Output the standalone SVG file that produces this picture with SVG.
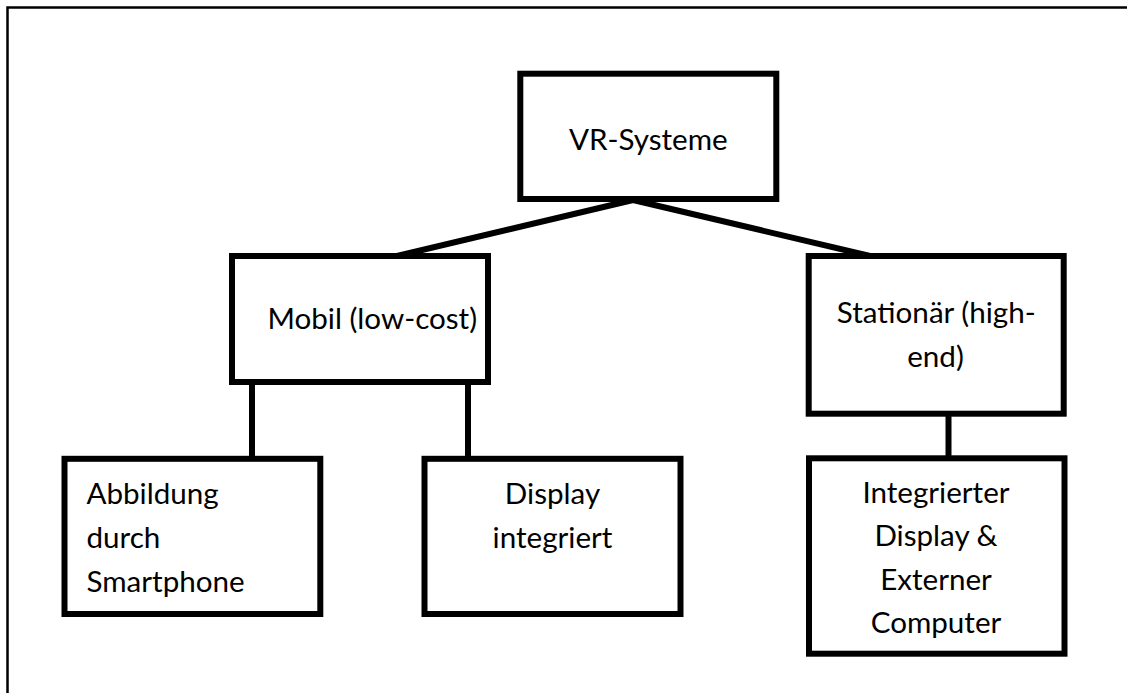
<svg xmlns="http://www.w3.org/2000/svg" width="1127" height="693" viewBox="0 0 1127 693">
<style>
.box{fill:#fff;stroke:#000;stroke-width:6}
.t{font-family:Lato,"Open Sans",sans-serif;font-size:29.6px;fill:#000}
.m{text-anchor:middle}
.c{stroke:#000;stroke-width:6;fill:none}
</style>
<rect width="1127" height="693" fill="#fff"/>
<path d="M7.5,693 V7.5 H1127" fill="none" stroke="#000" stroke-width="2.5"/>
<g id="connectors">
<line class="c" x1="633" y1="200" x2="397" y2="256"/>
<line class="c" x1="633" y1="200" x2="870" y2="256"/>
<line class="c" x1="252" y1="385" x2="252" y2="456"/>
<line class="c" x1="468" y1="385" x2="468" y2="456"/>
<line class="c" x1="948.5" y1="416" x2="948.5" y2="456"/>
</g>
<g id="vr">
<rect class="box" x="520.3" y="73.7" width="256" height="125.3"/>
<text class="t m" x="648.3" y="150">VR-Systeme</text>
</g>
<g id="mobil">
<rect class="box" x="232" y="256" width="256" height="126"/>
<text class="t m" x="372.3" y="329">Mobil (low-cost)</text>
</g>
<g id="stationaer">
<rect class="box" x="808.7" y="256" width="255" height="157.7"/>
<text class="t m" x="936.3" y="323.3">Stationär (high-</text>
<text class="t m" x="935.5" y="366.7">end)</text>
</g>
<g id="abbildung">
<rect class="box" x="64.5" y="458.8" width="255.8" height="155.2"/>
<text class="t" x="86.5" y="504">Abbildung</text>
<text class="t" x="86.5" y="548">durch</text>
<text class="t" x="86.5" y="591.5">Smartphone</text>
</g>
<g id="display">
<rect class="box" x="424.5" y="458.8" width="256" height="155.2"/>
<text class="t m" x="552.5" y="504">Display</text>
<text class="t m" x="552.5" y="548">integriert</text>
</g>
<g id="integrierter">
<rect class="box" x="809" y="458.3" width="255.5" height="195.4"/>
<text class="t m" x="936" y="502.7">Integrierter</text>
<text class="t m" x="936" y="546">Display &amp;</text>
<text class="t m" x="936" y="590">Externer</text>
<text class="t m" x="936" y="633.3">Computer</text>
</g>
</svg>
